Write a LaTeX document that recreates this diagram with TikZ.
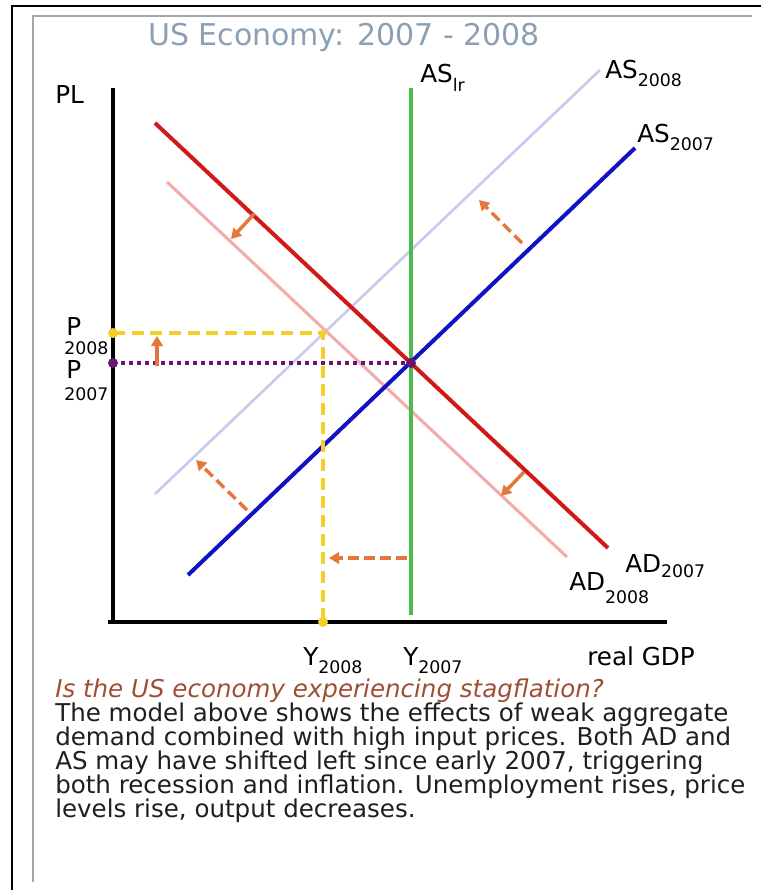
\documentclass[tikz,border=0pt]{standalone}
\usepackage{fontspec}
\setmainfont{DejaVu Sans}
\usepackage{tikz}
\usetikzlibrary{arrows.meta}

\definecolor{titleblue}{RGB}{138,160,180}
\definecolor{adred}{RGB}{208,26,26}
\definecolor{adpink}{RGB}{242,172,172}
\definecolor{asblue}{RGB}{18,18,196}
\definecolor{aslav}{RGB}{202,202,236}
\definecolor{lrgreen}{RGB}{78,186,78}
\definecolor{moveorange}{RGB}{230,118,58}
\definecolor{goldline}{RGB}{246,206,40}
\definecolor{eqpurple}{RGB}{104,22,112}
\definecolor{askbrown}{RGB}{158,78,52}

\newcommand{\subfont}{\fontsize{13}{14}\selectfont}
\newcommand{\lbl}[3][6pt]{#2\raisebox{-#1}{\subfont #3}}

\begin{document}
\begin{tikzpicture}[
        x=0.75pt, y=-0.75pt,
        axis/.style={line width=3pt, black},
        curve/.style={line width=3pt},
        guide/.style={line width=3pt},
        eqdot/.style={circle, inner sep=0pt, minimum size=7.5pt},
        curvelabel/.style={anchor=base west, inner sep=0pt, font=\fontsize{18.5}{20}\selectfont},
        movearrow/.style={-{Triangle[length=7.5pt, width=8.5pt]}, line width=2.6pt, moveorange},
        movedashed/.style={movearrow, dash pattern=on 8pt off 4pt},
        bodytext/.style={anchor=base west, inner sep=0pt, align=left, font=\fontsize{18.4}{18}\selectfont, text=black!88}
    ]
        \useasboundingbox (0,0) rectangle (761,890);
        % frames
        \draw[line width=2pt] (12,890) -- (12,6) -- (761,6);
        \draw[line width=1.1pt, gray!70] (33,882) -- (33,16) -- (752,16);

        \node[font=\fontsize{22.5}{23}\selectfont, text=titleblue, inner sep=0pt] (title) at (344,37) {US Economy: 2007 - 2008};

        % curves
        \draw[curve, aslav, line width=2pt] (155,494) -- (600,70);
        \draw[curve, adpink, line width=2.3pt] (167,182) -- (567,557);
        \draw[curve, lrgreen, line width=2.6pt] (411,88) -- (411,615);
        \draw[curve, adred] (155,123) -- (608,548);
        \draw[curve, asblue] (188,575) -- (635,148);

        % axes
        \draw[axis] (113,88) -- (113,624);
        \draw[axis] (108,622) -- (667,622);

        % equilibrium guides
        \draw[guide, goldline, dash pattern=on 9pt off 5pt] (113,333) -- (323,333) -- (323,622);
        \draw[guide, eqpurple, dash pattern=on 3pt off 3pt] (113,363) -- (411,363);
        \node[eqdot, fill=goldline] (p08) at (113,333) {};
        \node[eqdot, fill=goldline] (y08) at (323,622) {};
        \node[eqdot, fill=goldline, minimum size=5pt] (e08) at (323,333) {};
        \node[eqdot, fill=eqpurple] (p07) at (113,363) {};
        \node[eqdot, fill=eqpurple] (e07) at (411,363) {};

        % shifts
        \draw[movearrow] (157,366) -- (157,336);
        \draw[movearrow] (254,214) -- (231,239);
        \draw[movearrow] (524,472) -- (501,496);
        \draw[movedashed] (522,243) -- (479,200);
        \draw[movedashed] (247,510) -- (196,460);
        \draw[movedashed] (407,558) -- (329,558);

        % labels
        \node[curvelabel] (pl) at (55,103) {PL};
        \node[curvelabel] (aslr) at (420,82) {\lbl[7pt]{AS}{lr}};
        \node[curvelabel] (as08) at (605,78) {\lbl{AS}{2008}};
        \node[curvelabel] (as07) at (637,142) {\lbl{AS}{2007}};
        \node[curvelabel] (ad07) at (625,572) {\lbl[4pt]{AD}{2007}};
        \node[curvelabel] (ad08) at (569,590) {\lbl[10pt]{AD}{2008}};
        \node[curvelabel] (yl08) at (303,665) {\lbl{Y}{2008}};
        \node[curvelabel] (yl07) at (403,665) {\lbl{Y}{2007}};
        \node[curvelabel] (gdp) at (587,665) {real GDP};
        \node[curvelabel] (pl08) at (66,335) {P};
        \node[curvelabel, font=\subfont] (pl08s) at (64,354) {2008};
        \node[curvelabel] (pl07) at (66,378) {P};
        \node[curvelabel, font=\subfont] (pl07s) at (64,400) {2007};

        % caption
        \node[bodytext, text=askbrown, font=\fontsize{18.4}{18}\selectfont\itshape] (ask) at (55,697) {Is the US economy experiencing stagflation?};
        \node[bodytext] (model) at (55,817) {The model above shows the effects of weak aggregate\\demand combined with high input prices. Both AD and\\AS may have shifted left since early 2007, triggering\\both recession and inflation. Unemployment rises, price\\levels rise, output decreases.};
    \end{tikzpicture}
\end{document}
